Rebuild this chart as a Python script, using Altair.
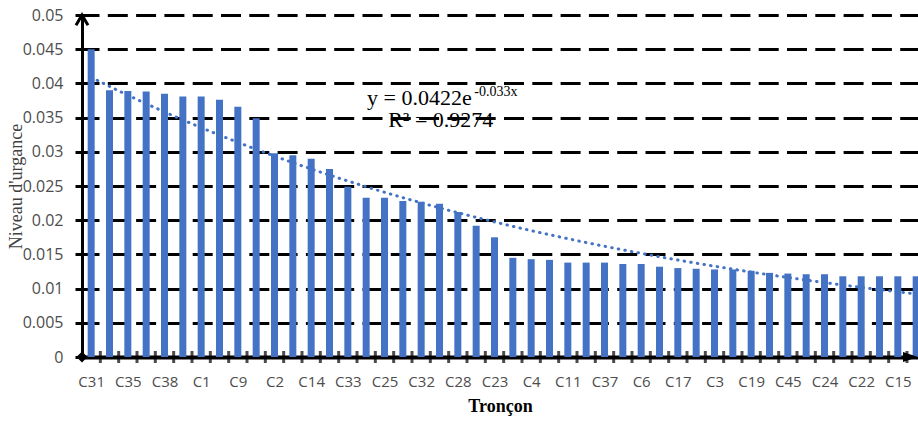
import altair as alt
import pandas as pd

# ---- data ----
values = [0.0450, 0.0390, 0.0389, 0.0388, 0.0385, 0.0381, 0.0381, 0.0376, 0.0366, 0.0349,
          0.0298, 0.0295, 0.0290, 0.0275, 0.0249, 0.0233, 0.0233, 0.0228, 0.0227, 0.0224,
          0.0212, 0.0192, 0.0175, 0.0145, 0.0143, 0.0142, 0.0138, 0.0138, 0.0138, 0.0136,
          0.0136, 0.0132, 0.0130, 0.0129, 0.0128, 0.0128, 0.0126, 0.0123, 0.0122, 0.0121,
          0.0121, 0.0118, 0.0118, 0.0118, 0.0118, 0.0118]
tick_labels = ["C31", "C35", "C38", "C1", "C9", "C2", "C14", "C33", "C25", "C32", "C28", "C23",
               "C4", "C11", "C37", "C6", "C17", "C3", "C19", "C45", "C24", "C22", "C15"]
y_ticks = [0, 0.005, 0.01, 0.015, 0.02, 0.025, 0.03, 0.035, 0.04, 0.045, 0.05]
equation_main = "y = 0.0422e"
equation_sup = "-0.033x"
r2_text = "R\u00b2 = 0.9274"

n = len(values)
df = pd.DataFrame({"x": list(range(1, n + 1)), "y": values})
bounds = pd.DataFrame({"x": [i + 0.5 for i in range(1, n)]})

X_LO, X_HI = 0.5, 46.1
Y_LO, Y_HI = 0, 0.05

label_array = "[" + ",".join("'" + l + "'" for l in tick_labels) + "]"

SANS = "Open Sans"
SERIF = "Liberation Serif"
BLUE = "#4472C4"

xscale = alt.Scale(domain=[X_LO, X_HI], nice=False, zero=False, padding=0)
yscale = alt.Scale(domain=[Y_LO, Y_HI], nice=False, padding=0)

x_axis = alt.Axis(
    values=list(range(1, n + 1, 2)), tickCount=100,
    labelExpr=label_array + "[(datum.value - 1) / 2]",
    ticks=False, grid=False,
    domainColor="black", domainWidth=4,
    labelFont=SANS, labelFontSize=15, labelColor="#4d4d4d",
    labelPadding=17, labelFlush=False, labelOverlap=False,
    title="Tronçon", titleFont=SERIF, titleFontSize=18, titleFontWeight="bold",
    titleColor="black", titlePadding=8,
)
y_axis = alt.Axis(
    values=y_ticks, tickCount=100, format="~g", labelOverlap=False,
    grid=True, gridColor="black", gridWidth=3, gridDash=[20, 8.3], gridDashOffset=3,
    tickColor="black", tickSize=7, tickWidth=3,
    domainColor="black", domainWidth=3,
    labelFont=SANS, labelFontSize=16, labelColor="#4d4d4d", labelPadding=12,
    title="Niveau d'urgance", titleFont=SERIF, titleFontSize=18, titleFontWeight="normal",
    titleColor="#404040", titleX=-66, titleY=171, titleBaseline="middle", titleAlign="center",
)

X = alt.X("x:Q", scale=xscale, axis=x_axis)
Y = alt.Y("y:Q", scale=yscale, axis=y_axis)

base = alt.Chart(df)

bars = base.mark_bar(size=7, color=BLUE).encode(x=X, y=Y)

# Exponential trendline fitted like Excel: least squares of ln(y) on x
trend = base.transform_calculate(
    ly="log(datum.y)", xly="datum.x * log(datum.y)", x2="datum.x * datum.x"
).transform_joinaggregate(
    mx="mean(x)", mly="mean(ly)", mxly="mean(xly)", mx2="mean(x2)"
).transform_calculate(
    b="(datum.mxly - datum.mx * datum.mly) / (datum.mx2 - datum.mx * datum.mx)"
).transform_calculate(
    trend="exp(datum.mly - datum.b * datum.mx) * exp(datum.b * datum.x)"
).mark_line(color=BLUE, strokeWidth=3, strokeDash=[0.5, 6.2], strokeCap="round",
            interpolate="monotone").encode(
    x=X, y=alt.Y("trend:Q", scale=yscale, axis=y_axis)
)

xticks = alt.Chart(bounds).mark_tick(orient="vertical", size=12, thickness=3, color="black").encode(
    x=X, y=alt.datum(0),
)

ann = pd.DataFrame({"x": [X_LO, X_HI, X_LO], "y": [Y_HI, Y_LO, Y_LO], "k": ["up", "right", "origin"]})

arrow_up = alt.Chart(ann).transform_filter("datum.k == 'up'").mark_point(
    shape="M-2,3.4L0,0L2,3.4", filled=False, stroke="black", strokeWidth=3, size=36, opacity=1
).encode(x=X, y=Y)

arrow_right = alt.Chart(ann).transform_filter("datum.k == 'right'").mark_point(
    shape="M0,0L-5,-1.7L-5,1.7Z", filled=True, color="black", size=36, opacity=1
).encode(x=X, y=Y)

origin = alt.Chart(ann).transform_filter("datum.k == 'origin'").mark_point(
    shape="diamond", filled=True, color="black", size=121, opacity=1
).encode(x=X, y=Y)

eq_df = pd.DataFrame({"x": [16.05, 21.9, 17.2], "y": [0.0379, 0.0387, 0.03465],
                      "t": [equation_main, equation_sup, r2_text], "k": ["m", "s", "r"]})

def text_layer(kind, size):
    return alt.Chart(eq_df).transform_filter(f"datum.k == '{kind}'").mark_text(
        font=SERIF, fontSize=size, color="black", align="left", baseline="middle"
    ).encode(x=X, y=Y, text="t:N")

chart = alt.layer(
    bars, trend, xticks, arrow_up, arrow_right, origin,
    text_layer("m", 22), text_layer("s", 14), text_layer("r", 22),
).properties(
    width=836, height=342,
    padding={"left": 82, "top": 15, "right": 0, "bottom": 71},
    autosize=alt.AutoSizeParams(type="none"),
    background="white",
).configure_view(stroke=None)

chart.save("out.html", embed_options={"renderer": "svg", "actions": False})
